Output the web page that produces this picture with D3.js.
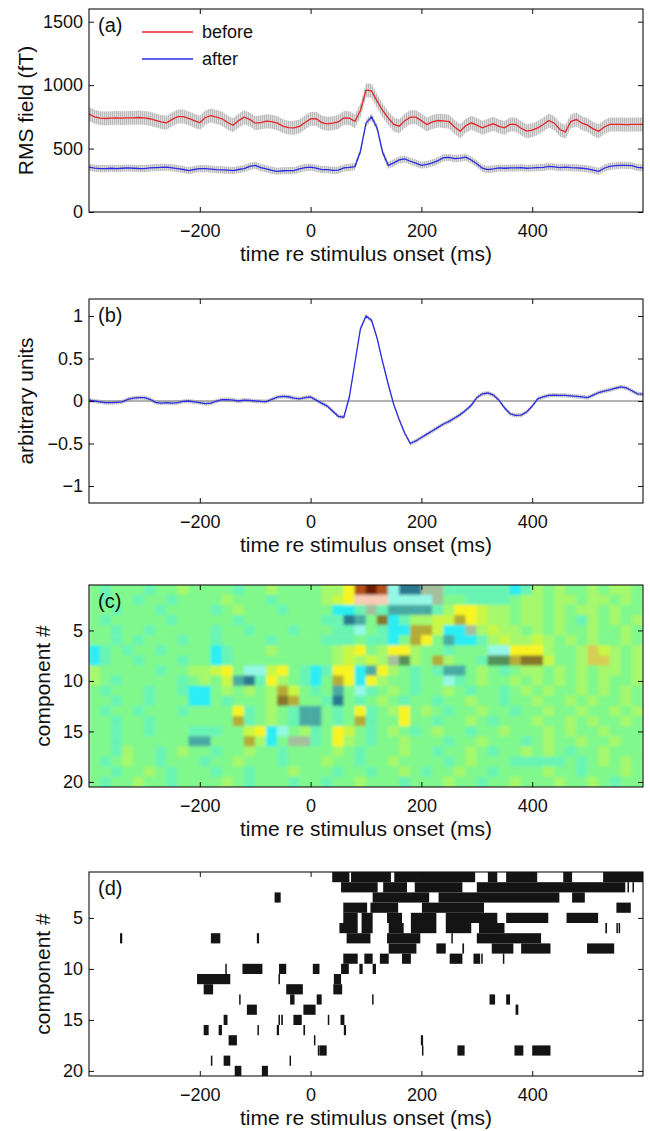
<!DOCTYPE html>
<html>
<head>
<meta charset="utf-8">
<script src="https://cdn.jsdelivr.net/npm/d3@7"></script>
<style>
  body { margin: 0; background: #fff; }
  svg { display: block; }
</style>
</head>
<body>
<svg id="fig" width="650" height="1131"></svg>
<script>
// ---- data ----
const sampleTimes = d3.range(-400, 601, 10); // ms, one value every 10 ms

// (a) RMS field, fT
const beforeRms = [
  772, 750, 740, 737, 740, 742, 740, 742, 742, 745,
  742, 735, 722, 710, 703, 730, 752, 752, 738, 720,
  703, 745, 760, 748, 735, 705, 684, 720, 747, 730,
  700, 705, 716, 712, 700, 677, 665, 663, 675, 705,
  734, 735, 705, 695, 700, 710, 742, 740, 715, 800,
  960, 955, 874, 800, 742, 690, 676, 720, 747, 747,
  720, 690, 710, 721, 718, 712, 670, 637, 680, 703,
  685, 663, 680, 695, 675, 663, 690, 690, 660, 637,
  645, 663, 690, 721, 700, 650, 632, 715, 729, 700,
  685, 655, 637, 670, 690, 690, 690, 688, 690, 690,
  690
];
const afterRms = [
  353, 345, 342, 342, 345, 342, 345, 347, 345, 343,
  342, 347, 350, 352, 353, 348, 342, 335, 326, 335,
  342, 342, 338, 334, 332, 330, 326, 335, 342, 360,
  368, 350, 340, 328, 321, 325, 326, 326, 340, 350,
  353, 345, 334, 334, 328, 330, 347, 352, 358, 479,
  700, 750, 663, 470, 368, 387, 410, 418, 400, 385,
  368, 375, 387, 405, 428, 430, 421, 425, 432, 410,
  380, 345, 334, 340, 347, 345, 347, 347, 350, 345,
  347, 350, 352, 360, 355, 350, 353, 350, 348, 345,
  340, 330, 321, 345, 360, 365, 368, 368, 365, 352,
  347
];
const beforeErr = 55;   // half width of grey error band, fT
const afterErr = 28;

// (b) component waveform, arbitrary units
const waveform = [
  0.01, 0.0, -0.01, -0.02, -0.02, -0.015, -0.01, 0.02, 0.035, 0.04,
  0.04, 0.02, -0.015, -0.025, -0.02, -0.025, -0.02, -0.005, 0.0, -0.01,
  -0.02, -0.03, -0.025, 0.0, 0.015, 0.015, 0.01, 0.0, 0.01, 0.008,
  0.0, -0.005, -0.008, 0.02, 0.045, 0.055, 0.05, 0.035, 0.025, 0.04,
  0.047, 0.01, -0.025, -0.06, -0.12, -0.18, -0.19, 0.05, 0.45, 0.85,
  1.0, 0.95, 0.74, 0.46, 0.2, -0.04, -0.22, -0.38, -0.5, -0.47,
  -0.43, -0.39, -0.35, -0.31, -0.27, -0.24, -0.2, -0.16, -0.11, -0.05,
  0.04, 0.085, 0.094, 0.07, 0.01, -0.08, -0.15, -0.17, -0.165, -0.13,
  -0.06, 0.025, 0.05, 0.065, 0.07, 0.067, 0.065, 0.06, 0.055, 0.048,
  0.04, 0.07, 0.1, 0.115, 0.13, 0.15, 0.165, 0.155, 0.12, 0.085,
  0.08
];
const waveErr = 0.025;

// (c) component x time map, 20 ms bins, one code per cell (see heatPalette)
const heatBinMs = 20;
const heatRows = [
  ".,...,..-. ...,..-... .--yRrRCTT qq,,,,,,c, -.-..-.--.",
  ".,..,..,.. ..-...,... .-lypppCCC Cq..,,,,.- -.--.--.-.",
  "..,...,... .,.-...,.. ..cc,q,ttt t,-yyl--.- -.-.--.-..",
  ".,.....,.. ...,...... .,,Tt.Oc,- -lloyl--.- -.-.,-.-.-",
  "..,..,.... .,..,...,. ..,,C.,cco olccq-l--. -.-..-..-.",
  "..,.,...,. .,....,... .,,,.,,c.o y.tcc,-l-- l-.-.-..-.",
  "c,.,..,... .c,...-... ..-ly.-yy- ..,...CCyy y-..-Ll-.-",
  "c,..,...,. .c,....... ..-l-l-qg- .o-..,ggoO Ol..-LL-.-",
  "-.....,..- -ly.CCly., c,yycty-., .,tt.-.,.- -.-.-.--.-",
  "-.,.....,. -.ltT,y-., c.oycy-.., ..C,.-..-. -.-.-.-..-",
  ".,...,..,c c.-.-.-ol. ,.t.C,.-., ..-.,..,.- .-..-.-.-.",
  "..,..,...c c.,...-Oo. .,T.,.-.,. .,..-..,.. -..-.-..-.",
  ".,..,...,. ...y,.-.,t t.,.y,.-y. -.,..-..,. .-..-..-.-",
  "..,..,.... ...o,.-.,t t.,.o,..y. .,..-.,... -..-.-..-.",
  "..,..,..., ,,..lycC.- ,.yl.,.-., .-..,..-.. .-.-..-...",
  "..,......t t...o-c.qq ,.y-.,..-. ..,..-..., .-..-..-..",
  "..,-..,.-. .,..-..,.. ..-.,...-. .,..-.,..- .-.,..-...",
  ".,.-..,... ,..-...,.. .-..,..-.. ..,.-...,, ,,,.,.-.-.",
  "..,..-.,.. .,..,...-. ..,..,..-. ,..-..,... .-..,...-.",
  ".,..-..,.. ..-.,...,. .,..-...,. ..-..,..-. ..-..-.,.."
];
const heatCodes = ".,-lyLoOcCtTgqrRp".split("");
const heatPalette = ["#80f88c", "#6af4b4", "#a6f86c", "#c9f744", "#f8f422", "#d6cf52",
  "#b4ac34", "#86742a", "#2aeef4", "#94f8e6", "#48aaa4", "#2a7890", "#559158",
  "#a4c09c", "#6e1a06", "#b0501c", "#f8ccb6"];

// (d) significant intervals per component, [start, end] in ms
const sigSegments = [
  [[39,70],[73,145],[151,297],[320,337],[353,409],[456,472],[528,600]],
  [[55,121],[131,174],[188,274],[300,568],[572,574],[581,583]],
  [[-65,-54],[112,214],[231,449],[472,495]],
  [[59,102],[108,158],[201,313],[552,578]],
  [[59,85],[92,112],[138,165],[181,227],[244,337],[353,429],[462,519]],
  [[52,85],[92,112],[141,168],[181,227],[244,290],[304,350],[532,535],[552,554],[556,558]],
  [[-344,-340],[-180,-163],[-97,-93],[65,108],[138,198],[254,256],[300,416]],
  [[141,191],[227,244],[274,277],[327,366],[380,433],[499,548]],
  [[59,85],[97,112],[125,141],[165,181],[251,274],[294,306],[308,310],[347,349]],
  [[-154,-152],[-123,-87],[-57,-44],[4,16],[55,69],[88,94],[112,118]],
  [[-205,-145],[-58,-56],[42,55]],
  [[-193,-176],[-44,-14],[41,57]],
  [[-129,-127],[-37,-29],[11,20],[111,113],[323,333],[353,360]],
  [[-115,-97],[-13,9],[370,375]],
  [[-157,-150],[-58,-56],[-53,-50],[-31,-16],[31,33],[54,61]],
  [[-193,-184],[-166,-160],[-96,-94],[-61,-57],[-13,-10],[60,64]],
  [[-148,-133],[6,7],[199,203]],
  [[13,14],[16,29],[201,203],[265,278],[368,384],[400,433]],
  [[-180,-178],[-157,-145],[-38,-36]],
  [[-137,-125],[-88,-77]]
];

const timeTicks = [-200, 0, 200, 400];
const rmsTicks = [0, 500, 1000, 1500];
const waveTicks = [-1, -0.5, 0, 0.5, 1];
const compTicks = [5, 10, 15, 20];
const xTitle = "time re stimulus onset (ms)";

// ---- layout ----
const FONT = "'Liberation Sans', Arial, Helvetica, sans-serif";
const X0 = 89, X1 = 643;
const panels = {
  a: { top: 9, bottom: 212, letter: "(a)", ylabel: "RMS field (fT)", ylabelX: 33 },
  b: { top: 299, bottom: 503, letter: "(b)", ylabel: "arbitrary units", ylabelX: 33 },
  c: { top: 585, bottom: 787, letter: "(c)", ylabel: "component #", ylabelX: 50 },
  d: { top: 872, bottom: 1076, letter: "(d)", ylabel: "component #", ylabelX: 50 }
};

const svg = d3.select("#fig");
const x = d3.scaleLinear().domain([-400, 600]).range([X0, X1]);

const defs = svg.append("defs");
// dense vertical hatching like the per-sample error bars
const pat = defs.append("pattern").attr("id", "errHatch")
  .attr("patternUnits", "userSpaceOnUse").attr("width", 2).attr("height", 4);
pat.append("rect").attr("width", 2).attr("height", 4).attr("fill", "#dedede");
pat.append("rect").attr("width", 1).attr("height", 4).attr("fill", "#bababa");
defs.append("filter").attr("id", "soft")
  .append("feGaussianBlur").attr("stdDeviation", 1.5);

Object.entries(panels).forEach(([k, p]) => {
  defs.append("clipPath").attr("id", "clip-" + k)
    .append("rect").attr("x", X0).attr("y", p.top)
    .attr("width", X1 - X0).attr("height", p.bottom - p.top);
});

function drawFrame(p, y, yTicks, fmt) {
  const g = svg.append("g");
  g.append("g").attr("transform", `translate(0,${p.bottom})`)
    .call(d3.axisBottom(x).tickValues(timeTicks).tickSizeInner(-5).tickSizeOuter(0)
      .tickPadding(12).tickFormat(d3.format("d")));
  g.append("g").attr("transform", `translate(0,${p.top})`)
    .call(d3.axisTop(x).tickValues(timeTicks).tickSizeInner(-5).tickSizeOuter(0).tickFormat(""));
  g.append("g").attr("transform", `translate(${X0},0)`)
    .call(d3.axisLeft(y).tickValues(yTicks).tickSizeInner(-5).tickSizeOuter(0)
      .tickPadding(6).tickFormat(fmt));
  g.append("g").attr("transform", `translate(${X1},0)`)
    .call(d3.axisRight(y).tickValues(yTicks).tickSizeInner(-5).tickSizeOuter(0).tickFormat(""));
  g.selectAll(".domain").remove();
  g.selectAll("g").attr("font-family", FONT).attr("font-size", 18);
  g.selectAll(".tick line").attr("stroke", "#111");
  g.selectAll(".tick text").attr("fill", "#111");

  g.append("rect").attr("x", X0).attr("y", p.top)
    .attr("width", X1 - X0).attr("height", p.bottom - p.top)
    .attr("fill", "none").attr("stroke", "#111").attr("stroke-width", 1.1);

  // panel letter
  g.append("text").attr("x", X0 + 9).attr("y", p.top + 23)
    .attr("font-family", FONT).attr("font-size", 20).attr("fill", "#111")
    .text(p.letter);

  // axis titles
  g.append("text").attr("x", (X0 + X1) / 2).attr("y", p.bottom + 49)
    .attr("text-anchor", "middle").attr("font-family", FONT).attr("font-size", 21)
    .attr("fill", "#111").text(xTitle);
  g.append("text")
    .attr("transform", `translate(${p.ylabelX},${(p.top + p.bottom) / 2}) rotate(-90)`)
    .attr("text-anchor", "middle").attr("font-family", FONT).attr("font-size", 21)
    .attr("fill", "#111").text(p.ylabel);
}

function drawTrace(g, y, values, err, colour) {
  const pts = sampleTimes.map((t, i) => ({ t, v: values[i] }));
  g.append("path").datum(pts)
    .attr("fill", "url(#errHatch)")
    .attr("d", d3.area().x(d => x(d.t)).y0(d => y(d.v - err)).y1(d => y(d.v + err)));
  return () => g.append("path").datum(pts)
    .attr("fill", "none").attr("stroke", colour).attr("stroke-width", 1.3)
    .attr("d", d3.line().x(d => x(d.t)).y(d => y(d.v)));
}

// ---- (a) ----
{
  const p = panels.a;
  const y = d3.scaleLinear().domain([0, 1600]).range([p.bottom, p.top]);
  const g = svg.append("g").attr("clip-path", "url(#clip-a)");
  const lineBefore = drawTrace(g, y, beforeRms, beforeErr, "#e8262a");
  const lineAfter = drawTrace(g, y, afterRms, afterErr, "#2a2ae8");
  lineBefore();
  lineAfter();
  drawFrame(p, y, rmsTicks, d3.format("d"));

  const legend = [
    { label: "before", colour: "#e8262a", y: 32 },
    { label: "after", colour: "#2a2ae8", y: 59 }
  ];
  const lg = svg.append("g");
  lg.selectAll("line").data(legend).join("line")
    .attr("x1", 142).attr("x2", 193)
    .attr("y1", d => d.y).attr("y2", d => d.y)
    .attr("stroke", d => d.colour).attr("stroke-width", 1.3);
  lg.selectAll("text").data(legend).join("text")
    .attr("x", 202).attr("y", d => d.y + 6)
    .attr("font-family", FONT).attr("font-size", 18).attr("fill", "#111")
    .text(d => d.label);
}

// ---- (b) ----
{
  const p = panels.b;
  const y = d3.scaleLinear().domain([-1.2, 1.2]).range([p.bottom, p.top]);
  const g = svg.append("g").attr("clip-path", "url(#clip-b)");
  const line = drawTrace(g, y, waveform, waveErr, "#2a2ae8");
  g.append("line").attr("x1", X0).attr("x2", X1)
    .attr("y1", y(0)).attr("y2", y(0))
    .attr("stroke", "#9a9a9a").attr("stroke-width", 1.3);
  line();
  drawFrame(p, y, waveTicks, d3.format(""));
}

// ---- (c) ----
{
  const p = panels.c;
  const y = d3.scaleLinear().domain([0.5, 20.5]).range([p.top, p.bottom]);
  const colour = d3.scaleOrdinal().domain(heatCodes).range(heatPalette);
  const cells = [];
  heatRows.forEach((row, r) => {
    row.replace(/ /g, "").split("").forEach((code, j) => {
      cells.push({ comp: r + 1, t0: -400 + j * heatBinMs, code });
    });
  });
  const g = svg.append("g").attr("clip-path", "url(#clip-c)")
    .append("g").attr("filter", "url(#soft)");
  g.selectAll("rect").data(cells).join("rect")
    .attr("x", d => x(d.t0) - 0.3)
    .attr("width", d => x(d.t0 + heatBinMs) - x(d.t0) + 0.6)
    .attr("y", d => y(d.comp - 0.5) - (d.comp === 1 ? 3 : 0.3))
    .attr("height", d => y(d.comp + 0.5) - y(d.comp - 0.5) + (d.comp === 1 || d.comp === 20 ? 3.3 : 0.6))
    .attr("fill", d => colour(d.code));
  drawFrame(p, y, compTicks, d3.format("d"));
}

// ---- (d) ----
{
  const p = panels.d;
  const y = d3.scaleLinear().domain([0.5, 20.5]).range([p.top, p.bottom]);
  const bars = [];
  sigSegments.forEach((segs, r) => segs.forEach(([a, b]) => bars.push({ comp: r + 1, a, b })));
  const g = svg.append("g").attr("clip-path", "url(#clip-d)");
  g.selectAll("rect").data(bars).join("rect")
    .attr("x", d => x(d.a))
    .attr("width", d => Math.max(1.5, x(d.b) - x(d.a)))
    .attr("y", d => y(d.comp - 0.5))
    .attr("height", d => y(d.comp + 0.5) - y(d.comp - 0.5))
    .attr("fill", "#141414");
  drawFrame(p, y, compTicks, d3.format("d"));
}
</script>
</body>
</html>
